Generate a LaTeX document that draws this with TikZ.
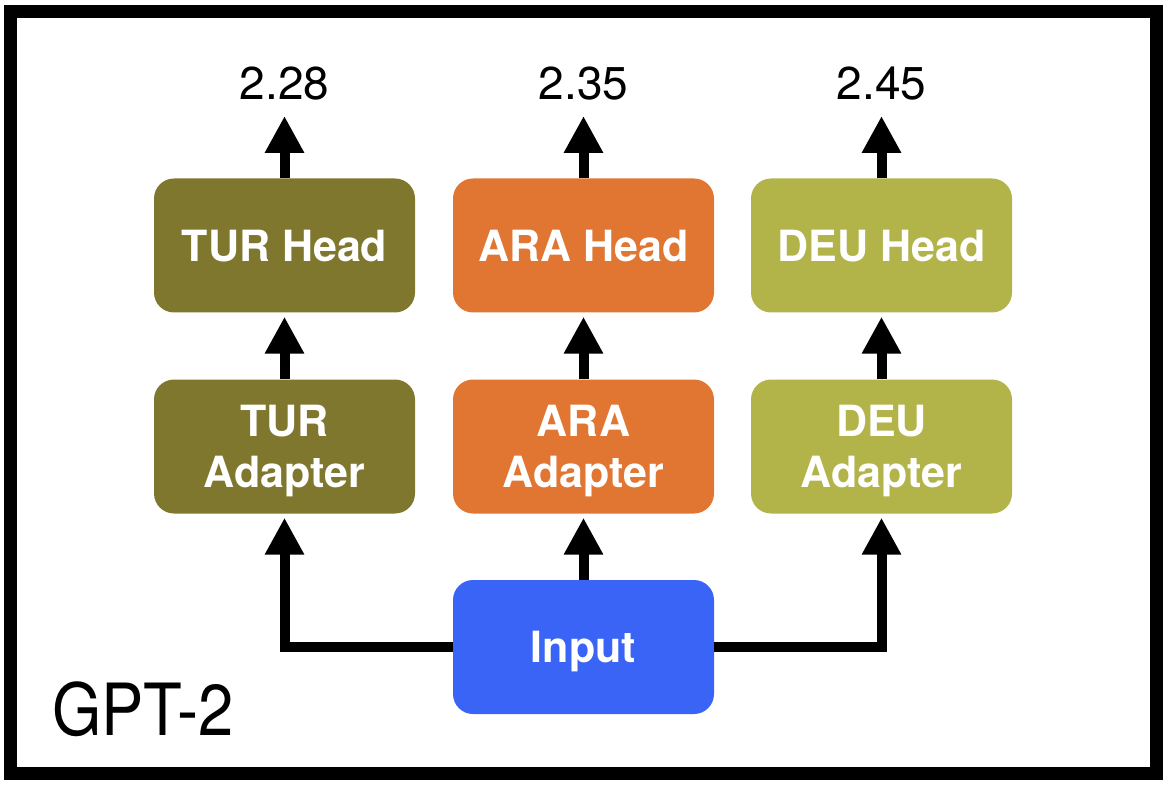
\documentclass[tikz,border=0pt]{standalone}
\usepackage{fontspec}
\setmainfont{TeX Gyre Heros}
\usetikzlibrary{arrows.meta}
\definecolor{turc}{HTML}{80772E}
\definecolor{arac}{HTML}{E07632}
\definecolor{deuc}{HTML}{B2B44A}
\definecolor{inpc}{HTML}{3A64F5}
\begin{document}
\begin{tikzpicture}[x=1pt,y=-1pt,
  box/.style={rounded corners=20pt, minimum width=261pt, minimum height=134pt,
    inner sep=0pt, text=white, align=center, text depth=0pt,
    font=\fontsize{43}{51}\selectfont\bfseries},
  arr/.style={line width=10pt, -{Triangle[width=37pt,length=37pt]}, shorten >=4pt},
  score/.style={anchor=base, inner sep=0pt, font=\fontsize{46}{55}\selectfont}
]
\useasboundingbox (0,0) rectangle (1165,786);
\draw[line width=13pt] (10.5,11.5) rectangle (1156,773);

\node[box, fill=turc] (turh) at (284.5,245.5) {TUR Head};
\node[box, fill=arac] (arah) at (583.5,245.5) {ARA Head};
\node[box, fill=deuc] (deuh) at (881.5,245.5) {DEU Head};

\node[box, fill=turc] (tura) at (284.5,446.5) {TUR\\Adapter};
\node[box, fill=arac] (araa) at (583.5,446.5) {ARA\\Adapter};
\node[box, fill=deuc] (deua) at (881.5,446.5) {DEU\\Adapter};

\node[box, fill=inpc] (inp) at (583.5,647) {Input};

\node[score] (s1) at (284.5,100) {2.28};
\node[score] (s2) at (583.5,100) {2.35};
\node[score] (s3) at (881.5,100) {2.45};

\coordinate (t1) at (284.5,116);
\coordinate (t2) at (583.5,116);
\coordinate (t3) at (881.5,116);

\draw[arr, shorten >=0pt] (turh.north) -- (t1);
\draw[arr, shorten >=0pt] (arah.north) -- (t2);
\draw[arr, shorten >=0pt] (deuh.north) -- (t3);

\draw[arr] (tura.north) -- (turh.south);
\draw[arr] (araa.north) -- (arah.south);
\draw[arr] (deua.north) -- (deuh.south);

\draw[arr] (inp.north) -- (araa.south);
\draw[arr] (inp.west) -| (tura.south);
\draw[arr] (inp.east) -| (deua.south);

\node[anchor=base west, inner sep=0pt, font=\fontsize{72}{80}\selectfont] (gpt) at (52,735) {\scalebox{0.88}[1]{GPT-2}};
\end{tikzpicture}
\end{document}
